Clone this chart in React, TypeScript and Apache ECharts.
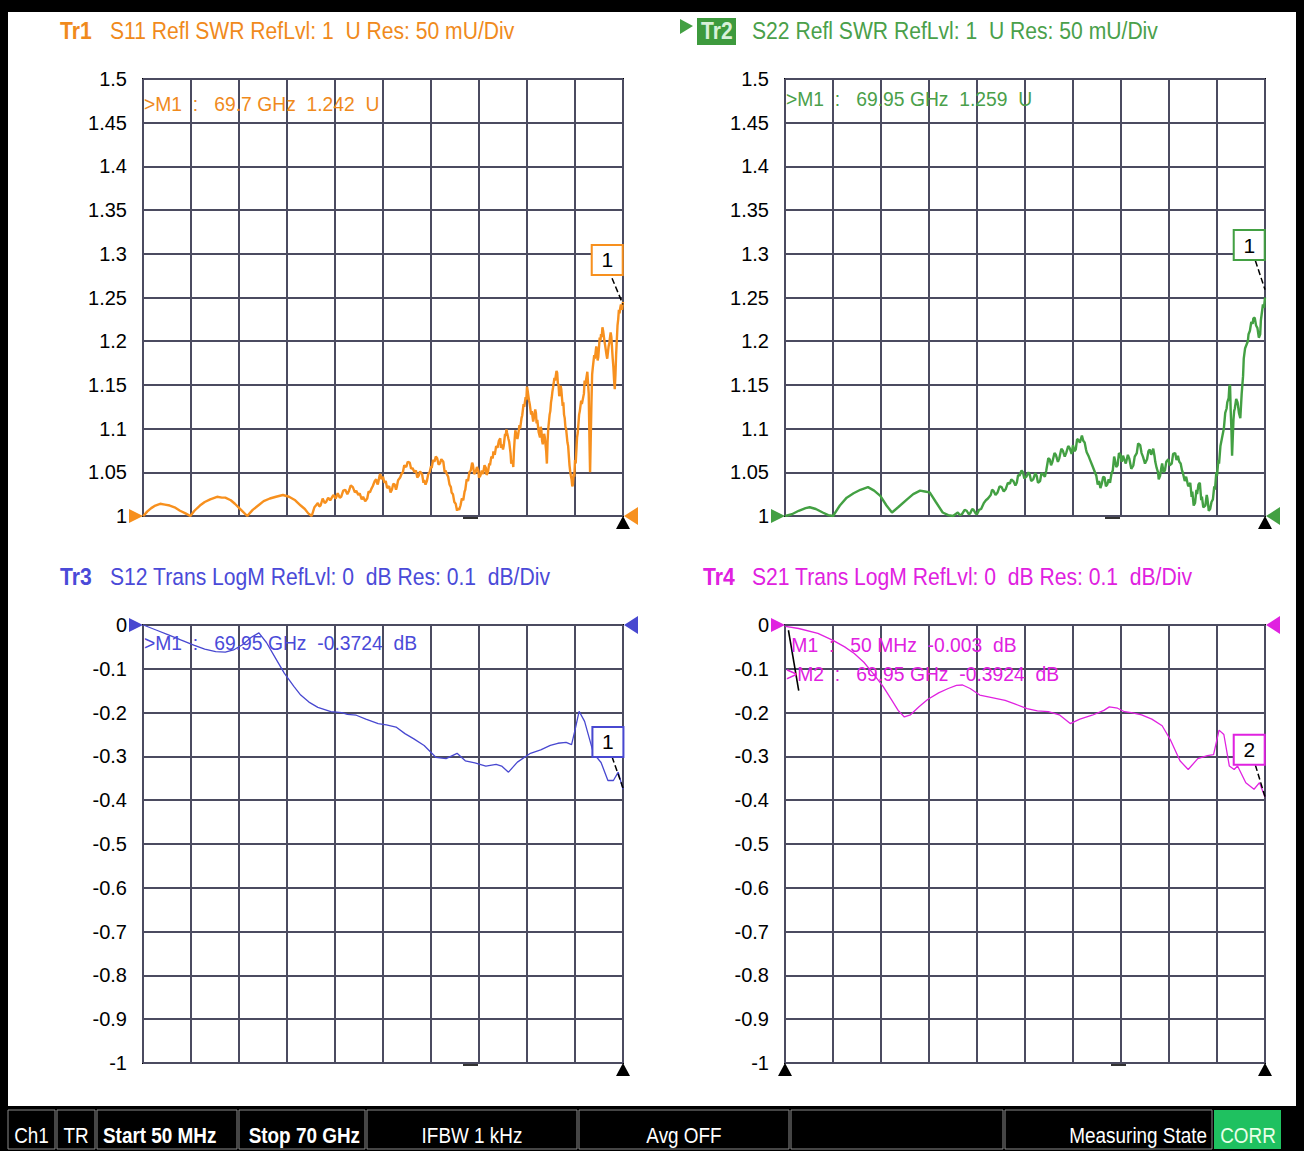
import React, { useEffect, useRef } from "react";
import * as echarts from "echarts";

const FONT = '"Liberation Sans", Arial, sans-serif';

// ---------- DATA (frequency in GHz, value) ----------
const s11Trace: [number, number][] = [
  [0.05, 1.0], [0.6, 1.005], [1.2, 1.009], [1.8, 1.012], [2.5, 1.014], [3.2, 1.013], [3.9, 1.012], [4.6, 1.01], [5.4, 1.006], [6.2, 1.003], [6.9, 1.0],
  [7.5, 1.006], [8.3, 1.012], [9.0, 1.016], [9.8, 1.019], [10.8, 1.022], [11.5, 1.021], [12.0, 1.021], [12.8, 1.018], [13.4, 1.014], [14.3, 1.007], [15.2, 1.0],
  [16.0, 1.007], [16.8, 1.012], [17.6, 1.017], [18.5, 1.02], [19.4, 1.022], [20.4, 1.024], [21.3, 1.022], [22.2, 1.018], [23.0, 1.012], [23.6, 1.008], [24.1, 1.003], [24.6, 1.0],
  [25.0, 1.01], [25.3, 1.013], [25.5, 1.015], [25.7, 1.011], [25.9, 1.012], [26.2, 1.02], [26.5, 1.015], [26.7, 1.016], [27.0, 1.021], [27.3, 1.018], [27.6, 1.022], [27.8, 1.024],
  [28.1, 1.02], [28.4, 1.026], [28.7, 1.021], [28.9, 1.022], [29.2, 1.029], [29.5, 1.03], [29.8, 1.025], [30.0, 1.028], [30.3, 1.035], [30.6, 1.033], [30.9, 1.027],
  [31.1, 1.029], [31.4, 1.024], [31.6, 1.026], [31.9, 1.019], [32.1, 1.022], [32.4, 1.017], [32.7, 1.02], [32.9, 1.028], [33.1, 1.027], [33.3, 1.031], [33.5, 1.034], [33.8, 1.04],
  [34.0, 1.042], [34.2, 1.036], [34.3, 1.038], [34.5, 1.046], [34.6, 1.048], [34.8, 1.042], [35.0, 1.045], [35.2, 1.038], [35.4, 1.04], [35.6, 1.032], [35.9, 1.034],
  [36.1, 1.027], [36.3, 1.03], [36.5, 1.037], [36.7, 1.036], [36.9, 1.03], [37.0, 1.033], [37.2, 1.041], [37.5, 1.044], [37.7, 1.048], [37.9, 1.05], [38.1, 1.058], [38.4, 1.056],
  [38.6, 1.062], [38.9, 1.061], [39.1, 1.054], [39.3, 1.055], [39.6, 1.05], [39.8, 1.052], [40.0, 1.044], [40.2, 1.046], [40.4, 1.051], [40.7, 1.048], [40.9, 1.038], [41.0, 1.041],
  [41.2, 1.036], [41.4, 1.04], [41.6, 1.048], [41.8, 1.05], [42.0, 1.057], [42.1, 1.055], [42.3, 1.064], [42.5, 1.062], [42.7, 1.068], [42.9, 1.066], [43.1, 1.059], [43.3, 1.06],
  [43.5, 1.065], [43.8, 1.062], [44.0, 1.05], [44.1, 1.052], [44.3, 1.048], [44.5, 1.045], [44.7, 1.036], [44.9, 1.033], [45.0, 1.027], [45.2, 1.025], [45.4, 1.016], [45.6, 1.014],
  [45.8, 1.006], [45.9, 1.009], [46.1, 1.007], [46.3, 1.012], [46.5, 1.02], [46.7, 1.018], [46.9, 1.028], [47.0, 1.03], [47.2, 1.042], [47.4, 1.04], [47.6, 1.05], [47.8, 1.052],
  [48.0, 1.061], [48.1, 1.059], [48.3, 1.048], [48.5, 1.05], [48.7, 1.056], [48.9, 1.052], [49.0, 1.044], [49.2, 1.046], [49.4, 1.052], [49.6, 1.048], [49.8, 1.058], [50.0, 1.055],
  [50.1, 1.047], [50.3, 1.05], [50.5, 1.06], [50.6, 1.058], [50.8, 1.068], [51.0, 1.066], [51.1, 1.074], [51.3, 1.07], [51.5, 1.08], [51.7, 1.078], [51.9, 1.086], [52.1, 1.089],
  [52.2, 1.078], [52.4, 1.082], [52.5, 1.076], [52.6, 1.08], [52.8, 1.094], [52.9, 1.092], [53.0, 1.099], [53.1, 1.095], [53.3, 1.088], [53.4, 1.085], [53.6, 1.072], [53.7, 1.06],
  [53.9, 1.064], [54.0, 1.056], [54.1, 1.075], [54.2, 1.088], [54.3, 1.098], [54.4, 1.095], [54.6, 1.088], [54.7, 1.092], [54.9, 1.104], [55.0, 1.1], [55.2, 1.112], [55.3, 1.115],
  [55.5, 1.128], [55.6, 1.125], [55.8, 1.136], [55.9, 1.133], [56.0, 1.148], [56.1, 1.143], [56.3, 1.132], [56.4, 1.128], [56.6, 1.116], [56.7, 1.12], [56.9, 1.108], [57.0, 1.112],
  [57.2, 1.122], [57.3, 1.118], [57.4, 1.106], [57.5, 1.11], [57.7, 1.096], [57.9, 1.09], [58.0, 1.102], [58.1, 1.098], [58.2, 1.086], [58.3, 1.082], [58.5, 1.094], [58.6, 1.09],
  [58.8, 1.074], [58.9, 1.06], [59.0, 1.085], [59.1, 1.1], [59.3, 1.116], [59.4, 1.12], [59.5, 1.13], [59.6, 1.135], [59.7, 1.142], [59.8, 1.147], [60.0, 1.158], [60.1, 1.155],
  [60.3, 1.166], [60.4, 1.164], [60.5, 1.152], [60.6, 1.15], [60.7, 1.137], [60.8, 1.14], [60.9, 1.149], [61.0, 1.145], [61.2, 1.126], [61.3, 1.13], [61.4, 1.116], [61.5, 1.112],
  [61.6, 1.102], [61.7, 1.1], [61.9, 1.084], [62.0, 1.08], [62.2, 1.058], [62.3, 1.051], [62.4, 1.046], [62.5, 1.042], [62.6, 1.034], [62.7, 1.036], [62.8, 1.048], [62.9, 1.045],
  [63.0, 1.064], [63.1, 1.06], [63.3, 1.09], [63.4, 1.095], [63.6, 1.116], [63.7, 1.12], [63.9, 1.132], [64.0, 1.128], [64.2, 1.136], [64.3, 1.14], [64.4, 1.155], [64.5, 1.15],
  [64.7, 1.16], [64.8, 1.165], [64.9, 1.152], [65.0, 1.14], [65.1, 1.09], [65.2, 1.05], [65.3, 1.09], [65.4, 1.13], [65.5, 1.162], [65.6, 1.17], [65.8, 1.184], [65.9, 1.18],
  [66.1, 1.194], [66.2, 1.19], [66.3, 1.178], [66.4, 1.182], [66.6, 1.204], [66.7, 1.2], [66.8, 1.208], [66.9, 1.205], [67.0, 1.216], [67.1, 1.212], [67.3, 1.2], [67.4, 1.195],
  [67.6, 1.184], [67.7, 1.18], [67.9, 1.194], [68.0, 1.198], [68.2, 1.21], [68.3, 1.205], [68.5, 1.18], [68.6, 1.17], [68.7, 1.155], [68.8, 1.145], [68.9, 1.162], [69.0, 1.185],
  [69.2, 1.218], [69.3, 1.225], [69.4, 1.236], [69.5, 1.232], [69.6, 1.238], [69.7, 1.242], [69.85, 1.236], [70.0, 1.245],
];

const s22Trace: [number, number][] = [
  [0.05, 1.0], [1.0, 1.002], [2.0, 1.006], [3.0, 1.009], [3.6, 1.01], [4.5, 1.008], [5.5, 1.004], [6.3, 1.001], [7.0, 1.0], [8.0, 1.012], [9.0, 1.021], [10.0, 1.026],
  [11.0, 1.03], [12.1, 1.033], [13.0, 1.029], [13.9, 1.023], [14.8, 1.012], [15.6, 1.004], [16.5, 1.01], [17.8, 1.019], [18.7, 1.025], [19.7, 1.029], [20.4, 1.028], [21.1, 1.027],
  [22.0, 1.016], [23.0, 1.004], [23.8, 1.001], [24.5, 1.0], [25.2, 1.004], [25.5, 1.001], [25.8, 1.002], [26.2, 1.007], [26.5, 1.006], [26.8, 1.002], [27.0, 1.003], [27.3, 1.008],
  [27.5, 1.007], [27.8, 1.003], [28.0, 1.002], [28.3, 1.007], [28.6, 1.008], [29.0, 1.015], [29.3, 1.018], [29.6, 1.02], [30.0, 1.024], [30.2, 1.03], [30.4, 1.029], [30.7, 1.024],
  [31.0, 1.027], [31.3, 1.034], [31.6, 1.033], [31.9, 1.028], [32.2, 1.031], [32.5, 1.038], [32.8, 1.037], [33.0, 1.042], [33.3, 1.04], [33.6, 1.035], [33.8, 1.038], [34.0, 1.047],
  [34.2, 1.046], [34.5, 1.052], [34.7, 1.05], [34.9, 1.043], [35.2, 1.045], [35.5, 1.05], [35.7, 1.047], [35.9, 1.04], [36.2, 1.042], [36.5, 1.049], [36.7, 1.046], [36.9, 1.038],
  [37.2, 1.04], [37.4, 1.049], [37.6, 1.048], [37.9, 1.045], [38.1, 1.052], [38.4, 1.066], [38.6, 1.065], [38.8, 1.058], [39.0, 1.062], [39.3, 1.072], [39.5, 1.07], [39.8, 1.062],
  [40.0, 1.066], [40.3, 1.077], [40.5, 1.075], [40.8, 1.068], [41.0, 1.072], [41.3, 1.08], [41.5, 1.078], [41.8, 1.071], [42.0, 1.081], [42.2, 1.074], [42.4, 1.076], [42.6, 1.088],
  [42.8, 1.087], [43.0, 1.084], [43.3, 1.092], [43.5, 1.086], [43.7, 1.084], [43.9, 1.076], [44.0, 1.073], [44.3, 1.068], [44.5, 1.064], [44.8, 1.058], [45.0, 1.054], [45.2, 1.05],
  [45.4, 1.046], [45.6, 1.036], [45.8, 1.04], [46.0, 1.032], [46.2, 1.037], [46.4, 1.045], [46.6, 1.044], [46.8, 1.034], [47.0, 1.036], [47.2, 1.042], [47.4, 1.038], [47.6, 1.048],
  [47.8, 1.052], [48.0, 1.068], [48.1, 1.065], [48.3, 1.056], [48.5, 1.058], [48.7, 1.072], [48.9, 1.07], [49.1, 1.062], [49.3, 1.069], [49.5, 1.064], [49.7, 1.06], [50.0, 1.07],
  [50.2, 1.066], [50.5, 1.054], [50.8, 1.058], [51.0, 1.068], [51.3, 1.072], [51.5, 1.083], [51.8, 1.081], [52.0, 1.072], [52.2, 1.068], [52.5, 1.06], [52.8, 1.065], [53.0, 1.074],
  [53.2, 1.076], [53.4, 1.07], [53.7, 1.077], [53.9, 1.068], [54.0, 1.062], [54.2, 1.055], [54.4, 1.05], [54.5, 1.042], [54.7, 1.046], [54.9, 1.056], [55.0, 1.06], [55.2, 1.05],
  [55.4, 1.052], [55.6, 1.062], [55.9, 1.065], [56.1, 1.058], [56.4, 1.06], [56.6, 1.071], [56.9, 1.072], [57.1, 1.064], [57.3, 1.069], [57.5, 1.062], [57.7, 1.06], [57.9, 1.052],
  [58.0, 1.05], [58.3, 1.04], [58.5, 1.045], [58.8, 1.034], [59.1, 1.038], [59.3, 1.022], [59.4, 1.028], [59.6, 1.012], [59.8, 1.015], [60.0, 1.03], [60.1, 1.025], [60.3, 1.036],
  [60.5, 1.038], [60.7, 1.018], [60.8, 1.022], [61.0, 1.01], [61.3, 1.012], [61.5, 1.024], [61.6, 1.02], [61.8, 1.006], [62.0, 1.008], [62.2, 1.016], [62.4, 1.019], [62.6, 1.034],
  [62.7, 1.03], [62.9, 1.05], [63.0, 1.046], [63.2, 1.064], [63.3, 1.06], [63.5, 1.08], [63.7, 1.088], [63.9, 1.096], [64.0, 1.1], [64.2, 1.118], [64.4, 1.123], [64.5, 1.13],
  [64.7, 1.135], [64.8, 1.148], [64.9, 1.15], [65.0, 1.12], [65.1, 1.1], [65.2, 1.069], [65.3, 1.09], [65.4, 1.11], [65.5, 1.12], [65.6, 1.123], [65.8, 1.134], [66.0, 1.13],
  [66.2, 1.118], [66.4, 1.112], [66.6, 1.14], [66.8, 1.16], [66.9, 1.18], [67.1, 1.192], [67.3, 1.196], [67.5, 1.2], [67.6, 1.208], [67.8, 1.212], [68.0, 1.222], [68.2, 1.22],
  [68.3, 1.226], [68.5, 1.227], [68.7, 1.218], [68.9, 1.215], [69.1, 1.204], [69.3, 1.208], [69.4, 1.224], [69.5, 1.23], [69.6, 1.236], [69.7, 1.242], [69.85, 1.238], [70.0, 1.25],
];

const s12Trace: [number, number][] = [
  [0.05, 0], [2, -0.012], [3.8, -0.023], [5.5, -0.034], [7.4, -0.046], [9, -0.055], [10.6, -0.061], [12, -0.062], [13.2, -0.057], [14.5, -0.045], [15.8, -0.028], [16.9, -0.018],
  [18, -0.04], [19.3, -0.075], [20.6, -0.11], [22, -0.14], [23, -0.16], [24.2, -0.176], [25.5, -0.188], [27.4, -0.198], [29, -0.2], [29.8, -0.204], [31.1, -0.206], [32.5, -0.215],
  [34.3, -0.225], [35.5, -0.228], [36.9, -0.233], [38.2, -0.248], [39.5, -0.26], [41, -0.275], [42.7, -0.302], [44.2, -0.305], [45.8, -0.293], [47, -0.31], [48.4, -0.315],
  [50, -0.322], [51.5, -0.318], [52.3, -0.322], [53.3, -0.336], [54.6, -0.313], [56.5, -0.293], [58, -0.285], [59.4, -0.275], [60.5, -0.27], [61.7, -0.268], [62.5, -0.273],
  [63.0, -0.24], [63.6, -0.197], [64.4, -0.22], [65.7, -0.293], [66.8, -0.314], [67.8, -0.355], [68.6, -0.355], [69.3, -0.336], [70, -0.375],
];

const s21Trace: [number, number][] = [
  [0.05, -0.003], [2, -0.008], [4.8, -0.019], [7, -0.035], [8.7, -0.05], [10.1, -0.065], [11.5, -0.085], [12.8, -0.11], [14.3, -0.14], [15.5, -0.17], [16.5, -0.195], [17.4, -0.21],
  [18.3, -0.205], [19.5, -0.187], [20.8, -0.17], [22.4, -0.155], [23.8, -0.145], [25, -0.138], [25.9, -0.137], [27, -0.145], [28.4, -0.16], [30, -0.165], [32.1, -0.172], [33.5, -0.18],
  [35.3, -0.191], [36.8, -0.196], [38.4, -0.198], [40, -0.205], [41.6, -0.225], [43, -0.215], [44.8, -0.206], [46.5, -0.195], [47.3, -0.187], [48.5, -0.19], [49.5, -0.198],
  [50.5, -0.2], [52, -0.205], [53.5, -0.215], [55, -0.23], [56.2, -0.262], [57.6, -0.31], [58.8, -0.33], [60.2, -0.305], [61.6, -0.298], [62.5, -0.296], [63.3, -0.24], [64.0, -0.25],
  [64.8, -0.322], [65.5, -0.33], [66, -0.322], [67.2, -0.36], [68.4, -0.375], [69.2, -0.36], [70, -0.393],
];

const titleTexts = [
  "S11 Refl SWR RefLvl: 1  U Res: 50 mU/Div",
  "S22 Refl SWR RefLvl: 1  U Res: 50 mU/Div",
  "S12 Trans LogM RefLvl: 0  dB Res: 0.1  dB/Div",
  "S21 Trans LogM RefLvl: 0  dB Res: 0.1  dB/Div",
];
const traceNames = ["Tr1", "Tr2", "Tr3", "Tr4"];
const markerReadouts = [
  [">M1  :   69.7 GHz  1.242  U"],
  [">M1  :   69.95 GHz  1.259  U"],
  [">M1  :   69.95 GHz  -0.3724  dB"],
  [" M1  :   50 MHz  -0.003  dB", ">M2  :   69.95 GHz  -0.3924  dB"],
];
const markerBoxLabels = ["1", "1", "1", "2"];
const markerBoxCoords: [number, number][] = [[67.7, 1.293], [67.7, 1.31], [67.8, -0.267], [67.7, -0.285]];
const leaderLines: [number, number][][] = [
  [[68.4, 1.272], [70, 1.242]],
  [[68.6, 1.292], [70, 1.259]],
  [[68.4, -0.301], [70, -0.372]],
  [[68.6, -0.32], [70, -0.392]],
];
const startMarkerLine: [number, number][] = [[0.5, -0.012], [2.0, -0.15]];
const statusCells: [number, number, string, string, boolean][] = [
  [8, 55, "Ch1", "center", false],
  [57, 95, "TR", "center", false],
  [97, 237, "Start 50 MHz", "left", true],
  [239, 365, "Stop 70 GHz", "right", true],
  [367, 577, "IFBW 1 kHz", "center", false],
  [579, 789, "Avg OFF", "center", false],
  [791, 1003, "", "center", false],
  [1005, 1212, "Measuring State", "right", false],
];

// ---------- LAYOUT / STYLE ----------
const COLORS = ["#f7901e", "#43a043", "#4848d0", "#e022e0"];
const TITLE_COLORS = ["#f08a1c", "#4aa04a", "#4a4ad8", "#e020e0"];
const PANELS = [
  { left: 143, top: 79, h: 437 },
  { left: 785, top: 79, h: 437 },
  { left: 143, top: 625, h: 438 },
  { left: 785, top: 625, h: 438 },
];
const PW = 480;
const GRIDC = "#4b4b60";

function txt(x: number, y: number, text: string, fill: string, font: string, sx: number, align = "left", z = 10) {
  return { type: "text", x, y, scaleX: sx, z, silent: true, style: { text, fill, font, textAlign: align, textVerticalAlign: "middle" } };
}

function buildOption() {
  const traces = [s11Trace, s22Trace, s12Trace, s21Trace];
  const grid = PANELS.map((p) => ({
    left: p.left, top: p.top, width: PW, height: p.h,
    show: true, borderColor: "#000", borderWidth: 2, backgroundColor: "transparent",
  }));
  const xAxis = PANELS.map((_, i) => ({
    type: "value", gridIndex: i, min: 0, max: 70, interval: 7,
    axisLabel: { show: false }, axisTick: { show: false }, axisLine: { show: false },
    splitLine: { show: true, lineStyle: { color: GRIDC, width: 2 } },
  }));
  const yAxis = PANELS.map((_, i) => ({
    type: "value", gridIndex: i,
    min: i < 2 ? 1 : -1, max: i < 2 ? 1.5 : 0, interval: i < 2 ? 0.05 : 0.1,
    axisLabel: { color: "#000", fontSize: 20, fontFamily: FONT, margin: 16 },
    axisTick: { show: false }, axisLine: { show: false },
    splitLine: { show: true, lineStyle: { color: GRIDC, width: 2 } },
  }));
  const series: any[] = traces.map((d, i) => {
    const ml: any[] = [[{ coord: leaderLines[i][0] }, { coord: leaderLines[i][1] }]];
    return {
      type: "line", xAxisIndex: i, yAxisIndex: i, data: d, showSymbol: false,
      lineStyle: { color: COLORS[i], width: i < 2 ? 2.4 : 1.3 },
      z: 3,
      markPoint: {
        symbol: "rect", symbolSize: [31, 30], silent: true,
        itemStyle: { color: "#fff", borderColor: COLORS[i], borderWidth: 2 },
        label: { show: true, position: "inside", color: "#000", fontSize: 21, fontFamily: FONT, formatter: markerBoxLabels[i] },
        data: [{ coord: markerBoxCoords[i] }],
      },
      markLine: {
        silent: true, symbol: ["none", "none"], animation: false,
        lineStyle: { color: "#000", type: "dashed", width: 1.5 },
        label: { show: false },
        data: ml,
      },
    };
  });
  // start marker leader of Tr4 (solid)
  series.push({
    type: "line", xAxisIndex: 3, yAxisIndex: 3, data: startMarkerLine, showSymbol: false, z: 4,
    lineStyle: { color: "#000", width: 1.6 }, silent: true,
  });

  const g: any[] = [];
  g.push({ type: "rect", shape: { x: 8, y: 12, width: 1288, height: 1094 }, style: { fill: "#fff" }, z: -10, silent: true });

  // Titles
  const titlePos = [
    { x: 60, y: 31, tx: 110 },
    { x: 699, y: 31, tx: 752 },
    { x: 60, y: 577, tx: 110 },
    { x: 703, y: 577, tx: 752 },
  ];
  titlePos.forEach((p, i) => {
    if (i === 1) {
      g.push({ type: "polygon", shape: { points: [[680, 19], [693, 26], [680, 34]] }, style: { fill: COLORS[1] } });
      g.push({ type: "rect", shape: { x: 697, y: 18, width: 39, height: 27 }, style: { fill: "#3d9a3d" } });
      g.push(txt(p.x + 2, p.y, traceNames[i], "#d8f0d8", `bold 24px ${FONT}`, 0.88));
    } else {
      g.push(txt(p.x, p.y, traceNames[i], TITLE_COLORS[i], `bold 24px ${FONT}`, 0.88));
    }
    g.push(txt(p.tx, p.y, titleTexts[i], TITLE_COLORS[i], `24px ${FONT}`, 0.88));
  });

  // Marker readouts
  const readY = [[104], [99], [643], [645, 674]];
  PANELS.forEach((p, i) => {
    markerReadouts[i].forEach((t, k) => {
      g.push(txt(p.left + 1, readY[i][k], t, TITLE_COLORS[i], `21px ${FONT}`, 0.92));
    });
  });

  // Reference-level triangles and stimulus markers
  PANELS.forEach((p, i) => {
    const refY = i < 2 ? p.top + p.h : p.top;
    const c = COLORS[i];
    const l = p.left, r = p.left + PW, b = p.top + p.h;
    g.push({ type: "polygon", z: 12, shape: { points: [[l - 14, refY - 7], [l, refY], [l - 14, refY + 7]] }, style: { fill: c } });
    g.push({ type: "polygon", z: 12, shape: { points: [[r + 15, refY - 9], [r + 1, refY], [r + 15, refY + 9]] }, style: { fill: c } });
    g.push({ type: "polygon", z: 12, shape: { points: [[r, b], [r - 7, b + 13], [r + 7, b + 13]] }, style: { fill: "#000" } });
    if (i === 3) g.push({ type: "polygon", z: 12, shape: { points: [[l, b], [l - 7, b + 13], [l + 7, b + 13]] }, style: { fill: "#000" } });
    const dashX = [463, 1105, 463, 1111][i];
    g.push({ type: "line", z: 12, shape: { x1: dashX, y1: b + 2, x2: dashX + 15, y2: b + 2 }, style: { stroke: "#333", lineWidth: 2 } });
  });

  // Status bar
  statusCells.forEach(([x0, x1, t, align, bold]) => {
    g.push({ type: "rect", shape: { x: x0, y: 1110, width: x1 - x0, height: 39 }, style: { fill: "#000", stroke: "#8a8a8a", lineWidth: 1 } });
    if (t) {
      const tx = align === "left" ? x0 + 6 : align === "right" ? x1 - 5 : (x0 + x1) / 2;
      g.push(txt(tx, 1135, t, "#fff", `${bold ? "bold " : ""}22px ${FONT}`, 0.86, align));
    }
  });
  g.push({ type: "rect", shape: { x: 1214, y: 1110, width: 67, height: 39 }, style: { fill: "#1fc160" } });
  g.push(txt(1248, 1135, "CORR", "#e8ffe8", `22px ${FONT}`, 0.86, "center"));

  return {
    animation: false,
    backgroundColor: "#000",
    grid, xAxis, yAxis, series, graphic: g,
  };
}

export default function App() {
  const ref = useRef<HTMLDivElement>(null);
  useEffect(() => {
    document.body.style.margin = "0";
    const chart = echarts.init(ref.current!, undefined, { renderer: "svg" });
    chart.setOption(buildOption() as any);
    return () => chart.dispose();
  }, []);
  return <div ref={ref} style={{ width: 1304, height: 1151 }} />;
}
